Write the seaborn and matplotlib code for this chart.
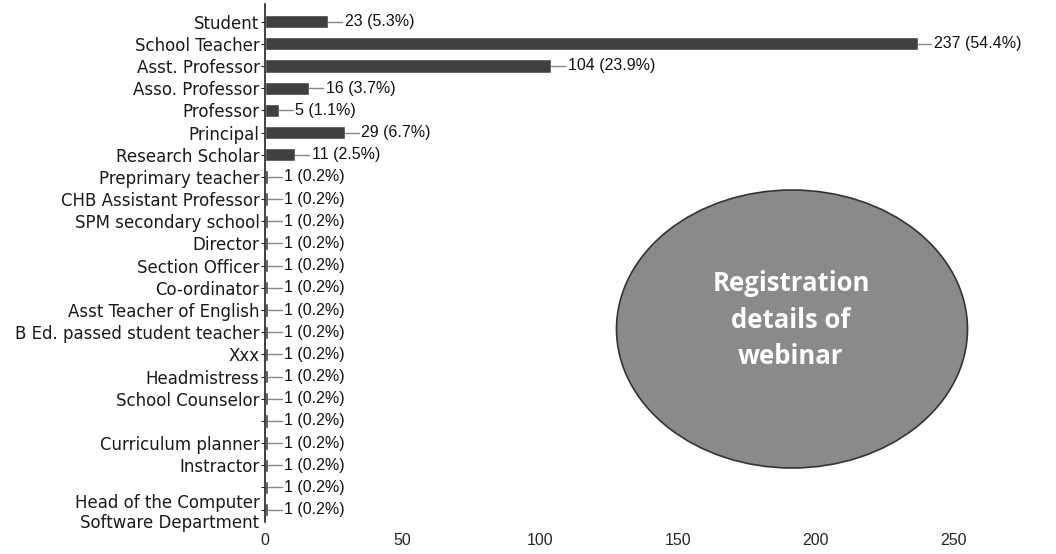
import matplotlib
matplotlib.use('Agg')
import matplotlib.pyplot as plt
from matplotlib.patches import Ellipse
import seaborn as sns
import pandas as pd

# categories (two have blank labels)
roles = ['Student', 'School Teacher', 'Asst. Professor', 'Asso. Professor', 'Professor',
         'Principal', 'Research Scholar', 'Preprimary teacher', 'CHB Assistant Professor',
         'SPM secondary school', 'Director', 'Section Officer', 'Co-ordinator',
         'Asst Teacher of English', 'B Ed. passed student teacher', 'Xxx', 'Headmistress',
         'School Counselor', ' ', 'Curriculum planner', 'Instractor', '  ',
         'Head of the Computer\nSoftware Department']
counts = [23, 237, 104, 16, 5, 29, 11, 1, 1, 1, 1, 1, 1, 1, 1, 1, 1, 1, 1, 1, 1, 1, 1]
pcts = ['5.3', '54.4', '23.9', '3.7', '1.1', '6.7', '2.5'] + ['0.2'] * 16
xticks = [0, 50, 100, 150, 200, 250]

df = pd.DataFrame({'role': roles, 'count': counts})

sns.set_style('white')
plt.rcParams['font.family'] = ['Liberation Sans', 'DejaVu Sans']

fig = plt.figure(figsize=(10.56, 5.54), dpi=100)
ax = fig.add_axes([0.251, 0.058, 0.73, 0.935])

sns.barplot(data=df, y='role', x='count', orient='h', color='#404040',
            width=0.6, saturation=1, ax=ax)

for i, (c, p) in enumerate(zip(counts, pcts)):
    ax.plot([c, c + 5], [i, i], color='#888888', lw=1)
    ax.text(c + 6, i, f'{c} ({p}%)', va='center', ha='left', fontsize=11.5, color='#111111')

ax.set_xlim(0, 280)
ax.set_ylim(len(roles) - 0.45, -0.8)
ax.set_xticks(xticks)
ax.set_xlabel('')
ax.set_ylabel('')
ax.tick_params(axis='x', length=0, labelsize=11.5, pad=8)
ax.tick_params(axis='y', length=3, left=True, pad=1)
for lab in ax.get_yticklabels():
    lab.set_fontfamily('DejaVu Sans')
    lab.set_fontsize(12)
    lab.set_color('#1a1a1a')
for s in ['top', 'right', 'bottom']:
    ax.spines[s].set_visible(False)
ax.spines['left'].set_color('#222222')
ax.spines['left'].set_linewidth(1.2)

# oval caption drawn on top of the chart
ell = Ellipse((792 / 1056, 1 - 329 / 554), 351 / 1056, 278 / 554,
              transform=fig.transFigure, facecolor='#8a8a8a', edgecolor='#333333', lw=1.2)
fig.add_artist(ell)
fig.text(791 / 1056, 1 - 320 / 554, 'Registration\ndetails of\nwebinar', ha='center', va='center',
         color='white', fontsize=18.5, fontweight='bold', family=['Open Sans', 'DejaVu Sans'],
         linespacing=1.45)

plt.savefig('out.png', dpi=100)
